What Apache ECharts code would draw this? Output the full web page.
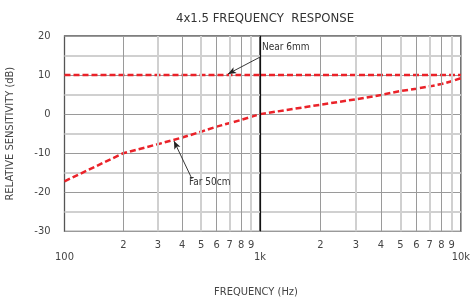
<!DOCTYPE html>
<html><head><meta charset="utf-8">
<script src="https://cdn.jsdelivr.net/npm/echarts@6/dist/echarts.min.js"></script>
<style>html,body{margin:0;padding:0;background:#fff}#c{width:473px;height:302px}</style>
</head><body><div id="c"></div>
<script>
// ---- data ----
const freqs = [100, 200, 300, 400, 500, 600, 800, 1000, 2000, 3000, 4000, 5000, 6000, 7000, 8000, 9000, 10000];
const farDb = [-17.2, -10, -7.7, -6.0, -4.5, -3.2, -1.5, 0, 2.4, 3.8, 4.9, 5.9, 6.5, 7.1, 7.7, 8.4, 9.2];
const nearFreqs = [100, 1000, 10000];
const nearDb = [10, 10, 10];
const decade1Ticks = [100, 200, 300, 400, 500, 600, 700, 800, 900, 1000];
const decade2Ticks = [1000, 2000, 3000, 4000, 5000, 6000, 7000, 8000, 9000, 10000];
const majorLabels = {100: '100', 1000: '1k', 10000: '10k'};
const yMin = -30, yMax = 20, yStep = 10;
const titleText = '4x1.5 FREQUENCY  RESPONSE';
const xName = 'FREQUENCY (Hz)';
const yName = 'RELATIVE SENSITIVITY (dB)';
const annotations = [
  {text: 'Near 6mm', textAt: [1023, 17.2], from: [1000, 14.6], to: [686, 10.3]},
  {text: 'Far 50cm', textAt: [433, -17.6], from: [449, -16.6], to: [363, -6.9]}
];

// ---- styling ----
const FONT = "'Liberation Sans Narrow','DejaVu Sans Condensed','Roboto',sans-serif";
const RED = '#ea2229';
const DARK = '#9a9a9a', LIGHT = '#d0d0d0';

const chart = echarts.init(document.getElementById('c'), null, {renderer: 'canvas'});

function inDecade(g, x) { return g === 0 ? x <= 1000 : x >= 1000; }

function pairs(xs, ys, g) {
  const out = [];
  xs.forEach((x, i) => { if (inDecade(g, x)) out.push([x, ys[i]]); });
  return out;
}

function xAxisFor(g) {
  const ticks = g === 0 ? decade1Ticks : decade2Ticks;
  const shown = g === 0 ? ticks.slice(0, 9) : ticks;
  return {
    type: 'log', logBase: 10, gridIndex: g,
    min: ticks[0], max: ticks[ticks.length - 1],
    axisLine: {show: false}, axisTick: {show: false}, splitLine: {show: false},
    axisLabel: {
      customValues: shown,
      showMinLabel: true, showMaxLabel: true, hideOverlap: false,
      margin: 8, color: '#444', fontSize: 11, fontFamily: FONT,
      formatter: function (v) {
        const r = Math.round(v);
        if (majorLabels[r]) return '{maj|' + majorLabels[r] + '}';
        return String(Math.round(r / Math.pow(10, Math.floor(Math.log10(r) + 1e-9))));
      },
      rich: {maj: {padding: [12, 0, 0, 0], fontSize: 11, color: '#444', fontFamily: FONT}}
    }
  };
}

function yAxisFor(g) {
  return {
    type: 'value', gridIndex: g, min: yMin, max: yMax, interval: yStep,
    axisLine: {show: false}, axisTick: {show: false},
    axisLabel: {show: g === 0, margin: 14, color: '#444', fontSize: 11, fontFamily: FONT},
    splitLine: {show: true, lineStyle: {color: DARK, width: 1}},
    minorTick: {show: false, splitNumber: 2},
    minorSplitLine: {show: true, lineStyle: {color: LIGHT, width: 2}},
    name: g === 0 ? yName : '', nameLocation: 'middle', nameRotate: 90, nameGap: 49,
    nameTextStyle: {color: '#444', fontSize: 11, fontFamily: FONT}
  };
}

function gridLineSeries(g) {
  const ticks = (g === 0 ? decade1Ticks : decade2Ticks).slice(1, 9);
  const lines = ticks.map((v, i) => ({
    xAxis: v,
    lineStyle: {color: i % 2 === 0 ? DARK : LIGHT, width: i % 2 === 0 ? 1 : 2, type: 'solid'}
  }));
  if (g === 1) lines.push({xAxis: 1000, lineStyle: {color: '#111', width: 1.2, type: 'solid'}});
  return {
    type: 'scatter', xAxisIndex: g, yAxisIndex: g, z: 1, symbolSize: 0, silent: true,
    data: pairs(nearFreqs, nearDb, g),
    markLine: {silent: true, symbol: ['none', 'none'], animation: false, label: {show: false}, data: lines}
  };
}

function dashSeries(xs, ys, g, name) {
  return {
    name: name, type: 'line', xAxisIndex: g, yAxisIndex: g, z: 3,
    data: pairs(xs, ys, g), showSymbol: false, symbol: 'none', smooth: false,
    lineStyle: {color: RED, width: 2.5, type: [6, 3]}, animation: false
  };
}

function annotationSeries(g) {
  const arrows = [], labels = [];
  annotations.forEach(a => {
    if (inDecade(g, Math.max(a.from[0], a.to[0])) && inDecade(g, Math.min(a.from[0], a.to[0])))
      arrows.push([{coord: a.from}, {coord: a.to}]);
    if (inDecade(g, a.textAt[0]) && !(g === 0 && a.textAt[0] === 1000))
      labels.push({coord: a.textAt, value: a.text});
  });
  return {
    type: 'scatter', xAxisIndex: g, yAxisIndex: g, z: 4, symbolSize: 0, silent: true, data: [],
    markLine: {
      silent: true, animation: false, symbol: ['none', 'arrow'], symbolSize: [5, 8],
      label: {show: false}, lineStyle: {color: '#222', width: 0.9, type: 'solid'}, data: arrows
    },
    markPoint: {
      silent: true, animation: false, symbol: 'circle', symbolSize: 0,
      label: {show: true, position: 'right', distance: 0, formatter: p => p.value,
              color: '#333', fontSize: 10, fontFamily: FONT},
      data: labels
    }
  };
}

const option = {
  animation: false,
  backgroundColor: '#fff',
  textStyle: {fontFamily: FONT},
  title: [
    {text: titleText, left: 265, top: 12, textAlign: 'center', padding: 0,
     textStyle: {fontSize: 13, fontWeight: 'normal', color: '#333', fontFamily: FONT}},
    {text: xName, left: 256, top: 287, textAlign: 'center', padding: 0,
     textStyle: {fontSize: 11, fontWeight: 'normal', color: '#444', fontFamily: FONT}}
  ],
  grid: [
    {left: 64.5, top: 36, width: 195.5, height: 195.3, show: true, borderColor: '#555', borderWidth: 1.3, backgroundColor: 'transparent', containLabel: false},
    {left: 260, top: 36, width: 204.3, height: 195.3, show: true, borderColor: '#555', borderWidth: 1.3, backgroundColor: 'transparent', containLabel: false}
  ],
  xAxis: [xAxisFor(0), xAxisFor(1)],
  yAxis: [yAxisFor(0), yAxisFor(1)],
  series: [
    gridLineSeries(0), gridLineSeries(1),
    dashSeries(nearFreqs, nearDb, 0, 'Near 6mm'), dashSeries(nearFreqs, nearDb, 1, 'Near 6mm'),
    dashSeries(freqs, farDb, 0, 'Far 50cm'), dashSeries(freqs, farDb, 1, 'Far 50cm'),
    annotationSeries(0), annotationSeries(1)
  ]
};
chart.setOption(option);
</script>
</body></html>
